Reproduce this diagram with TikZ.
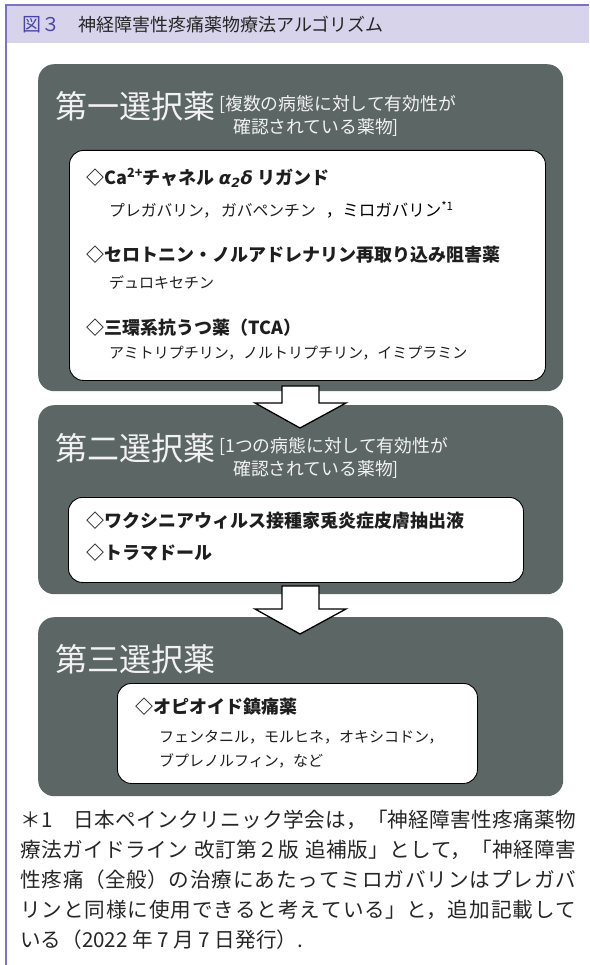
\documentclass[tikz,border=0pt]{standalone}
\usepackage{fontspec}
\setmainfont{Noto Sans CJK JP}
\newfontfamily\greekfont{DejaVu Sans}
\XeTeXlinebreaklocale "ja"
\XeTeXlinebreakskip=0pt plus 1pt
\definecolor{boxgray}{HTML}{5C6664}
\definecolor{band}{HTML}{D6D3EA}
\definecolor{frameline}{HTML}{7B72C8}
\definecolor{figno}{HTML}{4A44A8}
\definecolor{titlewhite}{HTML}{F2F2F2}
\definecolor{inktext}{HTML}{1E1E1E}
\tikzset{
  outerbox/.style={fill=boxgray, rounded corners=16pt, anchor=north west, inner sep=0, draw=none},
  innerbox/.style={fill=white, draw=black, line width=0.9pt, rounded corners=14pt, anchor=north west, inner sep=0},
  bigtitle/.style={anchor=west, inner sep=0, text=titlewhite, font=\fontsize{32}{32}\selectfont},
  bracket/.style={anchor=west, inner sep=0, text=titlewhite, font=\fontsize{17.8}{17.8}\selectfont},
  headitem/.style={anchor=west, inner sep=0, text=inktext, font=\fontsize{18}{18}\selectfont\bfseries},
  subitem/.style={anchor=west, inner sep=0, text=inktext, font=\fontsize{15}{15}\selectfont},
  blockarrow/.style={fill=white, draw=black, line width=1.3pt, line join=miter},
}
\begin{document}
\begin{tikzpicture}[x=1pt,y=-1pt]
\useasboundingbox (0,0) rectangle (589,965);
\fill[white] (0,0) rectangle (589,965);
% title band and frame
\fill[band] (6,5) rectangle (589,43);
\draw[frameline, line width=1.4pt] (6,965) -- (6,5) -- (589,5);
\node[anchor=west, inner sep=0, text=figno, font=\fontsize{19}{19}\selectfont] (fig) at (22,25) {図３};
\node[anchor=west, inner sep=0, text=black!85, font=\fontsize{18}{18}\selectfont] (figtitle) at (78,25) {神経障害性疼痛薬物療法アルゴリズム};

% box 1
\node[outerbox, minimum width=525pt, minimum height=327pt] (b1) at (38,64) {};
\node[bigtitle] (t1) at (55,106) {第一選択薬};
\node[bracket] (r1a) at (219,104) {[複数の病態に対して有効性が};
\node[bracket] (r1b) at (233,128) {確認されている薬物]};
\node[innerbox, minimum width=476pt, minimum height=230pt] (w1) at (69,150) {};
\node[headitem] (h11) at (86,178) {◇Ca\textsuperscript{2+}チャネル {\greekfont\bfseries\itshape α\textsubscript{2}δ} リガンド};
\node[subitem] (s11) at (109,210) {{\fontsize{15.8}{15.8}\selectfont プレガバリン，\hspace{2pt}ガバペンチン}\hspace{10pt}{\color{black}\fontsize{16.5}{16.5}\selectfont ，ミロガバリン\textsuperscript{*1}}};
\node[headitem] (h12) at (86,255) {◇セロトニン・ノルアドレナリン再取り込み阻害薬};
\node[subitem] (s12) at (109,283) {デュロキセチン};
\node[headitem] (h13) at (86,328) {◇三環系抗うつ薬（TCA）};
\node[subitem] (s13) at (109,353) {アミトリプチリン，ノルトリプチリン，イミプラミン};

% box 2
\node[outerbox, minimum width=525pt, minimum height=189pt] (b2) at (38,405) {};
\node[bigtitle] (t2) at (55,448) {第二選択薬};
\node[bracket] (r2a) at (219,446) {[1つの病態に対して有効性が};
\node[bracket] (r2b) at (233,470) {確認されている薬物]};
\node[innerbox, minimum width=455pt, minimum height=85pt] (w2) at (68,497) {};
\node[headitem] (h21) at (86,521) {◇ワクシニアウィルス接種家兎炎症皮膚抽出液};
\node[headitem] (h22) at (86,553) {◇トラマドール};

% box 3
\node[outerbox, minimum width=525pt, minimum height=179pt] (b3) at (38,617) {};
\node[bigtitle] (t3) at (55,659) {第三選択薬};
\node[innerbox, minimum width=360pt, minimum height=100pt] (w3) at (117,683) {};
\node[headitem] (h31) at (135,707) {◇オピオイド鎮痛薬};
\node[subitem] (s31) at (159,737) {フェンタニル，モルヒネ，オキシコドン，};
\node[subitem] (s32) at (159,761) {ブプレノルフィン，など};

% block arrows between boxes
\draw[blockarrow] (282,386) -- (282,403) -- (255,403) -- (300,428) -- (346,403) -- (319,403) -- (319,386) -- cycle;
\draw[blockarrow] (282,586) -- (282,609) -- (255,609) -- (300,634) -- (346,609) -- (319,609) -- (319,586) -- cycle;

% footnote
\node[anchor=north west, inner sep=0, text width=556pt, align=justify, text=black!85,
      font=\fontsize{20.6}{30}\selectfont] (note) at (20,810)
  {＊1　日本ペインクリニック学会は，「神経障害性疼痛薬物\linebreak
   療法ガイドライン 改訂第２版 追補版」として，「神経障害\linebreak
   性疼痛（全般）の治療にあたってミロガバリンはプレガバ\linebreak
   リンと同様に使用できると考えている」と，追加記載して\linebreak
   いる（2022 年 7 月 7 日発行）.};
\end{tikzpicture}
\end{document}
